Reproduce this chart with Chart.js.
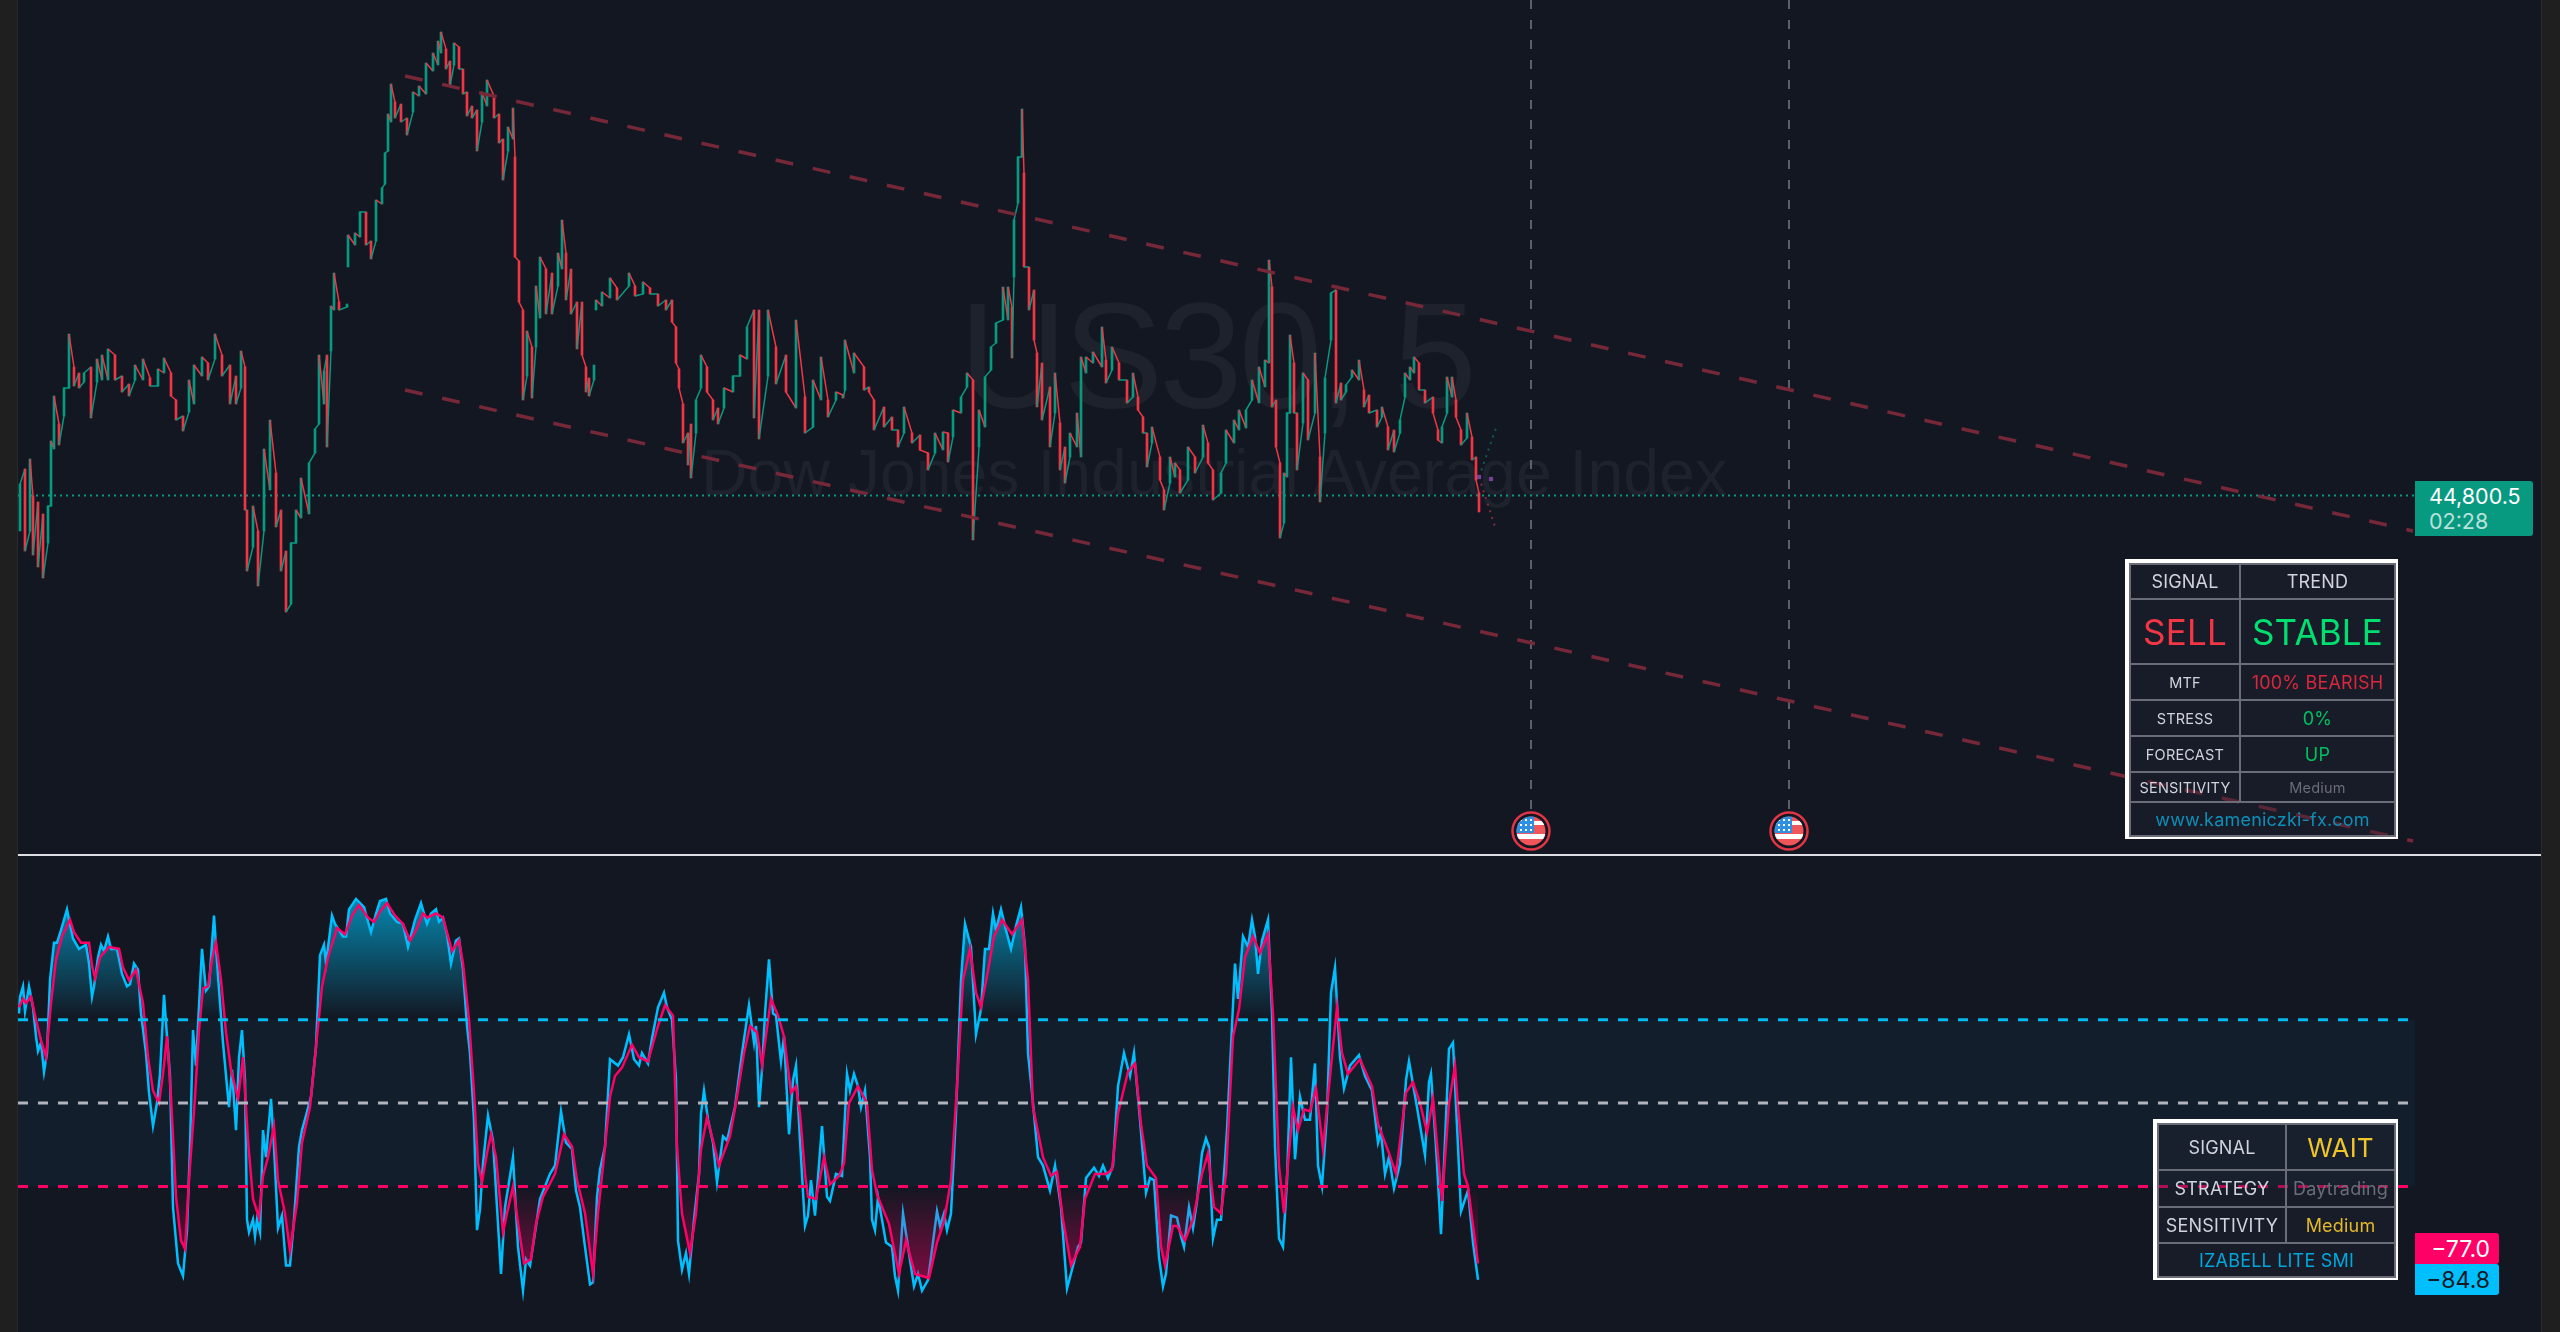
<!DOCTYPE html>
<html>
<head>
<meta charset="utf-8">
<title>US30, 5</title>
<script src="https://cdn.jsdelivr.net/npm/chart.js@4"></script>
<style>
  html, body { margin: 0; background: #131722; }
  body { position: relative; width: 2560px; height: 1332px; overflow: hidden; font-family: Inter, sans-serif; }
  .abs { position: absolute; }
  #stripL { left: 0; top: 0; width: 18px; height: 1332px; background: #1f1f1f; border-right: 1px solid #2a2a2a; box-sizing: border-box; }
  #stripR { left: 2541px; top: 0; width: 19px; height: 1332px; background: #1f1f1f; border-left: 1px solid #2a2a2a; box-sizing: border-box; }
  #divider { left: 18px; top: 854px; width: 2523px; height: 2px; background: #dcdee4; }
  .mark { font-family: "Liberation Sans", sans-serif; color: #1e222d; line-height: 1; white-space: nowrap; }
  #mark1 { left: 959px; top: 281px; font-size: 150px; letter-spacing: -4px; }
  #mark2 { left: 701px; top: 441px; font-size: 64.4px; }
  canvas { position: absolute; }
  #priceChart { left: 18px; top: 0; }
  #smiChart { left: 18px; top: 856px; }
  .tag { color: #fff; font-size: 21.5px; box-sizing: border-box; white-space: nowrap; }
  #priceTag { left: 2415px; top: 481px; width: 118px; height: 55px; background: #089981; border-radius: 0 3px 3px 0; padding: 3px 0 0 14px; line-height: 25px; }
  #priceTag span { display: block; color: rgba(255,255,255,.72); }
  #slowTag, #fastTag { left: 2415px; width: 84px; height: 31px; border-radius: 0 3px 3px 0; text-align: right; padding-right: 9px; line-height: 32px; font-size: 23px; }
  #slowTag { top: 1233px; background: #ff0066; }
  #fastTag { top: 1264px; background: #00bfff; color: #131722; }
  .box { border: 4px solid #fff; box-sizing: border-box; background: rgba(33,37,51,.35); }
  .box table { border-collapse: collapse; table-layout: fixed; width: 100%; height: 100%; }
  .box td { border: 2px solid #6a6d78; padding: 0; text-align: center; color: #d1d4dc; font-size: 18px; letter-spacing: .2px; white-space: nowrap; overflow: hidden; }
  .box td.sm { font-size: 14.5px; }
  #box1 { left: 2125px; top: 559px; width: 273px; height: 280px; }
  #box2 { left: 2153px; top: 1119px; width: 245px; height: 161px; }
</style>
</head>
<body>
<div class="abs mark" id="mark1">US30, 5</div>
<div class="abs mark" id="mark2">Dow Jones Industrial Average Index</div>
<canvas id="priceChart" width="2397" height="853"></canvas>
<canvas id="smiChart" width="2397" height="476"></canvas>
<div class="abs" id="stripL"></div>
<div class="abs" id="stripR"></div>
<div class="abs" id="divider"></div>
<div class="abs tag" id="priceTag">44,800.5<span>02:28</span></div>
<div class="abs tag" id="slowTag">−77.0</div>
<div class="abs tag" id="fastTag">−84.8</div>

<div class="abs box" id="box1"><table>
  <colgroup><col style="width:110px"><col style="width:155px"></colgroup>
  <tr style="height:35px"><td>SIGNAL</td><td>TREND</td></tr>
  <tr style="height:65px"><td style="font-size:35px;color:#f23645">SELL</td><td style="font-size:35px;color:#00e070">STABLE</td></tr>
  <tr style="height:36px"><td class="sm">MTF</td><td style="color:#d9283d">100% BEARISH</td></tr>
  <tr style="height:36px"><td class="sm">STRESS</td><td style="color:#00c060">0%</td></tr>
  <tr style="height:36px"><td class="sm">FORECAST</td><td style="color:#00c060">UP</td></tr>
  <tr style="height:30px"><td class="sm">SENSITIVITY</td><td class="sm" style="color:#6a6d78">Medium</td></tr>
  <tr style="height:34px"><td colspan="2" style="color:#0e8fb8">www.kameniczki-fx.com</td></tr>
</table></div>

<div class="abs box" id="box2"><table>
  <colgroup><col style="width:128px"><col style="width:109px"></colgroup>
  <tr style="height:46px"><td>SIGNAL</td><td style="font-size:26px;color:#f0c52a">WAIT</td></tr>
  <tr style="height:37px"><td>STRATEGY</td><td style="color:#6a6d78">Daytrading</td></tr>
  <tr style="height:36px"><td>SENSITIVITY</td><td style="color:#e4b92a">Medium</td></tr>
  <tr style="height:34px"><td colspan="2" style="color:#00a8dc">IZABELL LITE SMI</td></tr>
</table></div>

<script>
// price bars
const barIndex = [0,5,10,13,18,23,28,31,34,39,44,49,54,59,64,71,77,82,88,95,102,109,115,123,130,138,144,151,156,163,169,174,182,188,195,202,210,216,221,225,227,233,238,244,250,256,261,266,271,276,281,289,295,299,304,307,311,314,319,327,
  328,335,340,346,351,356,362,365,368,371,375,381,387,393,399,406,413,418,421,426,430,434,439,443,447,452,457,462,467,474,479,483,488,493,495,499,503,507,512,516,520,526,532,538,542,546,551,557,562,566,569,574,
  576,582,590,597,609,615,623,630,638,646,652,656,659,663,668,671,676,681,687,693,698,704,713,720,727,734,739,748,756,766,776,
  785,793,801,808,816,823,825,834,844,849,854,864,872,878,884,892,900,908,915,923,928,933,941,947,953,959,965,971,976,983,988,992,994,998,1002,1004,1009,1014,1017,1022,1030,1035,1040,1045,1050,1057,1061,1066,1073,1082,1086,1092,1099,1107,1113,1118,1123,1127,1132,1140,1144,1150,1155,1160,1168,1175,1183,1188,1193,1201,1206,1214,1219,1226,1232,1239,1245,1249,1252,1256,1260,1264,1267,1270,1274,1277,1283,1288,1295,1300,1305,1311,1316,1321,1326,1332,1339,1344,1349,1357,1362,1368,1374,1380,1385,1390,1394,1399,1405,1413,1418,1422,1427,1432,1436,1441,1447,1452,1456,1459];
const barHigh = [44812,44827,44837,44800,44794,44782,44790,44855,44900,44872,44908,44962,44929,44923,44923,44929,44937,44941,44947,44941,44920,44912,44931,44937,44918,44927,44938,44923,44896,44880,44916,44931,44939,44933,44962,44941,44931,44920,44945,44929,44786,44790,44765,44847,44876,44823,44786,44745,44753,44786,44818,44833,44867,44941,44925,44941,44990,45023,44994,44992,
  45061,45063,45084,45084,45055,45096,45108,45143,45182,45212,45194,45192,45178,45204,45210,45233,45243,45255,45264,45247,45235,45253,45249,45227,45204,45190,45186,45204,45216,45200,45182,45157,45169,45188,45139,45035,44986,44965,44949,45010,45039,45027,45023,45043,45076,45043,45027,44994,44994,44929,44918,44931,
  44996,45004,45018,45008,45023,45010,45014,45008,45002,44996,44996,44969,44927,44892,44863,44872,44896,44941,44929,44896,44888,44908,44920,44941,44969,44986,44986,44986,44949,44941,44976,
  44899,44916,44939,44896,44904,44901,44956,44943,44929,44909,44896,44889,44879,44866,44889,44863,44861,44843,44863,44864,44863,44886,44899,44923,44916,44886,44919,44949,44973,45009,45009,44989,45076,45139,45187,45123,45029,45006,44943,44933,44909,44923,44873,44849,44863,44883,44939,44939,44944,44969,44936,44949,44933,44916,44923,44899,44879,44863,44869,44839,44806,44839,44833,44826,44849,44839,44871,44853,44826,44823,44866,44876,44886,44886,44916,44929,44936,45036,45009,44896,44833,44823,44883,44961,44933,44883,44923,44916,44943,44839,44918,45003,45006,44913,44911,44926,44936,44906,44901,44886,44889,44869,44866,44876,44923,44929,44939,44933,44906,44899,44866,44869,44919,44919,44896,44866,44883,44859,44839,44803];
const barLow = [44765,44745,44765,44741,44729,44718,44753,44790,44847,44851,44880,44908,44910,44908,44914,44878,44914,44916,44916,44916,44904,44900,44916,44916,44910,44910,44923,44900,44876,44865,44884,44892,44920,44916,44937,44920,44892,44892,44908,44786,44725,44749,44710,44765,44806,44769,44725,44684,44692,44753,44778,44782,44843,44872,44892,44849,44945,44986,44986,44989,
  45029,45051,45059,45051,45037,45055,45092,45112,45145,45174,45178,45174,45161,45184,45200,45202,45225,45231,45243,45227,45210,45231,45227,45202,45180,45178,45145,45174,45190,45178,45153,45116,45145,45157,45039,44994,44896,44920,44898,44949,44978,44982,44982,45010,45027,44996,44982,44947,44941,44904,44900,44916,
  44986,44990,44998,44996,45010,45000,45002,45002,44990,44986,44974,44933,44908,44853,44831,44818,44863,44908,44904,44876,44872,44888,44904,44920,44937,44878,44857,44920,44912,44904,44888,
  44863,44869,44896,44879,44896,44898,44906,44923,44906,44904,44866,44869,44866,44849,44863,44853,44846,44826,44843,44846,44834,44859,44883,44909,44756,44849,44869,44926,44953,44976,44976,44938,45019,45093,45139,45029,44986,44956,44889,44876,44849,44883,44826,44813,44839,44849,44839,44923,44933,44929,44913,44926,44916,44893,44899,44886,44863,44829,44853,44816,44786,44813,44819,44803,44816,44823,44839,44833,44796,44803,44833,44853,44866,44868,44896,44893,44909,44933,44889,44849,44758,44773,44819,44883,44883,44826,44873,44856,44883,44794,44863,44956,44893,44896,44904,44919,44916,44889,44883,44869,44879,44846,44844,44863,44899,44916,44923,44906,44893,44883,44856,44853,44883,44899,44879,44851,44858,44836,44816,44784];
const sessionBreaks = [327, 574];

const lastPrice = 44800.5;
const trendBarIndex = [385, 2393];
const trendUpper = [45220, 44765];
const trendLower = [44906, 44455];
const eventBarIndex = [1511, 1769];
const eventLineTop = 45296;
const eventLineEnd = 44485;
const eventIconPrice = 44465;
const forecastBarIndex = [1459, 1476];
const forecastUp = [44819, 44868];
const forecastDown = [44819, 44766];
const pivotBarIndex = [1459, 1471];
const pivotPrice = [44819, 44817];

// SMI lines
const fastIndex = [-1,0,3,5,9,13,16,18,21,24,27,30,34,37,41,47,49,53,59,66,69,72,74,78,81,84,88,91,97,102,107,110,114,118,121,126,129,133,137,140,144,147,150,153,158,163,167,170,173,176,180,182,186,189,194,198,203,207,209,212,216,219,222,225,227,229,233,235,237,240,243,246,251,254,258,262,266,270,274,279,282,286,291,296,300,304,306,312,315,319,323,326,329,336,344,351,356,360,366,370,377,383,388,395,401,407,411,416,419,423,427,431,436,439,443,447,450,454,457,460,463,468,473,478,481,485,493,498,503,506,510,516,520,525,530,535,541,546,552,556,560,565,570,573,577,580,585,590,598,603,609,614,619,622,628,632,638,644,647,652,656,658,662,666,669,674,679,681,684,688,693,697,703,707,715,722,729,
  734,736,739,742,745,749,753,756,761,764,769,773,776,780,785,788,791,795,802,807,810,816,822,827,830,834,838,841,845,850,852,855,858,866,872,875,878,883,888,894,898,902,908,917,920,924,927,931,936,941,945,951,956,961,965,969,973,976,981,986,991,996,1001,1005,1008,1012,1018,1023,1030,1035,1041,1047,1052,1058,1061,1066,1074,1079,1083,1088,1093,1098,1104,1110,1114,1120,1126,1130,1134,1139,1143,1146,1151,1157,1161,1164,1169,1173,1177,1182,1186,1189,1193,1197,1201,1207,1211,1215,1218,1223,1228,1232,1235,1238,1242,1248,1252,1255,1259,1263,1267,1271,1275,1280,1285,1290,1295,1298,1302,1307,1311,1315,1320,1324,1330,1339,1345,1352,1358,1361,1365,1369,1374,1380,1386,1389,1397,1405,1409,1411,1416,1421,1425,1429,1433,1438,1441,1448,1453,1458];
const fastValues = [43,51,56,44,56,46,32,25,29,15,24,59,77,77,83,93,88,79,74,76,67,51,56,70,76,73,80,74,74,62,56,57,67,64,43,24,5,-11,0,14,52,32,13,-50,-77,-83,-61,-21,35,18,56,74,54,56,90,61,29,8,-2,16,-13,22,35,11,-56,-62,-56,-64,-56,-62,-13,-26,2,-21,-60,-54,-78,-78,-56,-21,-13,-6,3,27,71,76,67,90,86,83,80,80,93,98,94,82,91,97,98,91,87,86,75,88,96,86,91,93,87,89,81,67,78,79,64,37,24,-8,-61,-51,-29,-6,-18,-58,-82,-50,-26,-69,-90,-75,-78,-59,-46,-40,-34,-30,-4,-19,-22,-42,-50,-69,-87,-86,-45,-32,-21,21,18,22,33,21,18,24,19,31,46,53,46,40,11,-66,-80,-72,-82,-56,-34,-5,6,-8,-19,-38,-16,-18,-2,24,47,
  29,37,-2,16,43,69,43,42,20,32,-15,11,18,-18,-59,-54,-37,-54,-11,-45,-47,-34,-35,14,6,14,8,-2,6,-26,-56,-61,-45,-67,-69,-83,-90,-53,-69,-88,-82,-90,-85,-52,-59,-53,-61,-53,-5,59,86,75,33,45,74,74,91,83,93,83,74,85,94,75,24,5,-26,-30,-42,-30,-50,-89,-80,-69,-67,-36,-31,-35,-30,-36,-30,8,24,13,24,-8,-43,-36,-37,-74,-88,-82,-54,-55,-64,-69,-50,-60,-47,-24,-17,-21,-65,-56,-56,-13,27,67,50,80,75,88,80,62,78,88,43,-21,-65,-69,-37,22,-27,3,-8,-8,19,-30,-40,-5,53,65,22,7,18,23,13,6,-19,-14,-34,-26,-41,-29,11,20,-2,-25,10,14,-21,-63,-18,26,29,-21,-52,-42,-67,-84.8];
const slowIndex = [-1,3,6,11,16,21,26,31,36,42,50,54,61,69,72,75,80,89,99,103,109,116,123,128,133,139,143,147,151,156,161,165,169,175,179,183,188,192,196,201,206,211,218,223,228,233,239,243,248,254,258,265,270,277,282,290,296,302,308,317,325,332,339,348,354,360,367,375,383,390,396,403,407,416,423,432,439,443,449,454,458,462,467,471,476,483,487,493,499,504,511,516,523,535,544,552,557,565,573,578,585,590,595,602,612,619,628,638,645,653,657,662,670,676,681,687,693,699,710,717,724,730,
  737,742,745,751,758,764,771,776,780,785,788,796,804,810,819,824,829,838,847,852,857,869,879,886,895,909,917,924,931,937,943,950,956,961,967,974,982,992,1002,1008,1013,1023,1031,1037,1043,1051,1060,1065,1075,1086,1092,1098,1108,1115,1121,1127,1136,1141,1145,1153,1157,1165,1173,1182,1188,1194,1201,1206,1213,1219,1225,1233,1240,1248,1253,1259,1264,1268,1273,1278,1284,1290,1296,1303,1309,1317,1322,1328,1340,1352,1358,1369,1376,1386,1393,1400,1407,1413,1422,1429,1435,1438,1444,1448,1453,1458];
const slowValues = [46,50,48,51,40,30,22,48,69,80,88,82,77,77,66,60,70,75,74,65,59,64,48,22,6,0,14,32,3,-45,-66,-70,-37,3,35,55,56,69,77,59,34,16,2,22,-18,-46,-55,-35,-26,-11,-37,-53,-71,-48,-19,-2,27,56,70,84,81,90,95,89,87,92,96,90,86,78,83,91,89,91,89,73,78,67,40,5,-29,-38,-24,-15,-26,-62,-53,-40,-61,-77,-75,-58,-45,-34,-15,-21,-37,-53,-82,-53,-21,3,13,17,28,22,20,37,47,42,-21,-53,-72,-53,-22,-7,-18,-30,-16,3,24,37,
  34,18,29,50,42,32,5,8,-5,-34,-45,-46,-26,-39,-35,-29,0,8,0,-32,-44,-58,-82,-66,-82,-84,-67,-57,-37,8,59,74,53,46,61,80,88,81,88,59,-2,-26,-35,-33,-56,-78,-69,-46,-34,-34,-32,-5,15,19,-10,-30,-36,-69,-78,-59,-59,-66,-56,-34,-24,-50,-53,-34,32,45,70,80,72,81,43,-30,-53,-29,-2,-13,-3,-4,7,-22,8,46,24,14,21,8,-10,-24,-34,5,10,0,-14,2,-47,0,18,-2,-34,-40,-59,-77];
const levelValues = [40, 0, -40];
const paneRange = [-2, 2395];

const teal = '#089981';
const red = '#f23645';

// candles are drawn as low-high wicks plus a thin path through them
const mids = barHigh.map((h, i) => (h + barLow[i]) / 2);
const rising = mids.map((m, i) => i === 0 || m >= mids[i - 1]);
const wicks = barIndex.map((x, i) => ({ x: x, y: [barLow[i], barHigh[i]] }));
const path = [];
barIndex.forEach((x, i) => {
  const a = rising[i] ? barLow[i] : barHigh[i];
  const b = rising[i] ? barHigh[i] : barLow[i];
  path.push({ x: x, y: a }, { x: x, y: b });
  if (sessionBreaks.includes(x)) path.push({ x: x, y: null });
});

function pairs(xs, ys) {
  return xs.map((x, i) => ({ x: x, y: ys[i] }));
}

function lineSet(data, color, width, dash, order) {
  return { type: 'line', data: data, borderColor: color, borderWidth: width, borderDash: dash || [], pointRadius: 0, tension: 0, fill: false, order: order };
}

function flagIcon() {
  const c = document.createElement('canvas');
  c.width = 42; c.height = 42;
  const g = c.getContext('2d');
  g.fillStyle = '#131722';
  g.beginPath(); g.arc(21, 21, 19, 0, Math.PI * 2); g.fill();
  g.strokeStyle = '#e03545'; g.lineWidth = 2.5;
  g.beginPath(); g.arc(21, 21, 18.5, 0, Math.PI * 2); g.stroke();
  g.save();
  g.beginPath(); g.arc(21, 21, 14.5, 0, Math.PI * 2); g.clip();
  g.fillStyle = '#f0555a'; g.fillRect(6, 6, 30, 30);
  g.fillStyle = '#fff';
  g.fillRect(6, 11, 30, 4); g.fillRect(6, 24, 30, 5);
  g.fillStyle = '#2f8fe0'; g.fillRect(6, 6, 18, 17);
  g.fillStyle = '#fff';
  [10, 15, 20].forEach(y => [10, 15, 20].forEach(x => g.fillRect(x, y - 1, 2, 2)));
  g.restore();
  return c;
}

const hiddenScales = (yMin, yMax) => ({
  x: { type: 'linear', display: false, min: paneRange[0], max: paneRange[1], offset: false },
  y: { display: false, min: yMin, max: yMax }
});

const baseOptions = {
  responsive: false,
  animation: false,
  layout: { padding: 0, autoPadding: false },
  plugins: { legend: { display: false }, tooltip: { enabled: false } }
};

new Chart(document.getElementById('priceChart').getContext('2d'), {
  type: 'bar',
  data: {
    datasets: [
      lineSet(pairs(trendBarIndex, trendUpper), '#762838', 3.5, [18, 20], 1),
      lineSet(pairs(trendBarIndex, trendLower), '#762838', 3.5, [18, 20], 1),
      {
        type: 'scatter', data: eventBarIndex.map(x => ({ x: x, y: eventIconPrice })), pointStyle: flagIcon(), showLine: false, order: 0
      },
      {
        type: 'scatter', data: pairs(pivotBarIndex, pivotPrice), pointRadius: 3, pointStyle: 'rect', backgroundColor: '#7b3f98', borderWidth: 0, showLine: false, order: 0
      },
      lineSet(pairs(forecastBarIndex, forecastUp), '#0b5e52', 2, [2, 5], 2),
      lineSet(pairs(forecastBarIndex, forecastDown), '#8a2a3d', 2, [2, 5], 2),
      {
        type: 'line', data: path, borderWidth: 1.5, pointRadius: 0, tension: 0, spanGaps: false, fill: false, order: 3,
        borderColor: teal,
        segment: { borderColor: ctx => (ctx.p1.parsed.y >= ctx.p0.parsed.y ? teal : red) }
      },
      {
        type: 'bar', data: wicks, barThickness: 2, backgroundColor: rising.map(r => (r ? teal : red)), order: 4
      },
      lineSet(pairs([eventBarIndex[0], eventBarIndex[0]], [eventLineTop, eventLineEnd]), '#5d6068', 2, [9, 11], 5),
      lineSet(pairs([eventBarIndex[1], eventBarIndex[1]], [eventLineTop, eventLineEnd]), '#5d6068', 2, [9, 11], 5),
      lineSet(pairs(paneRange, [lastPrice, lastPrice]), teal, 2, [2, 4], 5)
    ]
  },
  options: Object.assign({}, baseOptions, { scales: hiddenScales(44443, 45296) })
});

const fastSet = lineSet(pairs(fastIndex, fastValues), '#00bfff', 2.5, null, 2);
const slowSet = lineSet(pairs(slowIndex, slowValues), '#ff0066', 2.5, null, 1);
fastSet.fill = { target: { value: levelValues[0] }, above: 'transparent', below: 'transparent' };
slowSet.fill = { target: { value: levelValues[2] }, above: 'transparent', below: 'transparent' };
const band = lineSet(pairs(paneRange, [levelValues[0], levelValues[0]]), 'transparent', 0, null, 9);
band.fill = { target: { value: levelValues[2] }, above: '#131e2c', below: '#131e2c' };

const smiChart = new Chart(document.getElementById('smiChart').getContext('2d'), {
  type: 'line',
  data: {
    datasets: [
      slowSet,
      fastSet,
      band,
      lineSet(pairs(paneRange, [levelValues[0], levelValues[0]]), '#00bcf0', 3, [10, 10], 0),
      lineSet(pairs(paneRange, [levelValues[1], levelValues[1]]), '#b2b5be', 3, [10, 10], 0),
      lineSet(pairs(paneRange, [levelValues[2], levelValues[2]]), '#ff0066', 3, [10, 10], 0)
    ]
  },
  options: Object.assign({}, baseOptions, { scales: hiddenScales(-109.9, 118.6) })
});

// gradients need the finished scale
const yScale = smiChart.scales.y;
const ctx = smiChart.ctx;
const topGrad = ctx.createLinearGradient(0, yScale.getPixelForValue(98), 0, yScale.getPixelForValue(levelValues[0]));
topGrad.addColorStop(0, 'rgba(0,188,240,0.68)');
topGrad.addColorStop(1, 'rgba(0,188,240,0)');
const lowGrad = ctx.createLinearGradient(0, yScale.getPixelForValue(levelValues[2]), 0, yScale.getPixelForValue(-90));
lowGrad.addColorStop(0, 'rgba(255,0,102,0)');
lowGrad.addColorStop(1, 'rgba(255,0,102,0.5)');
fastSet.fill.above = topGrad;
slowSet.fill.below = lowGrad;
smiChart.update('none');
</script>
</body>
</html>
